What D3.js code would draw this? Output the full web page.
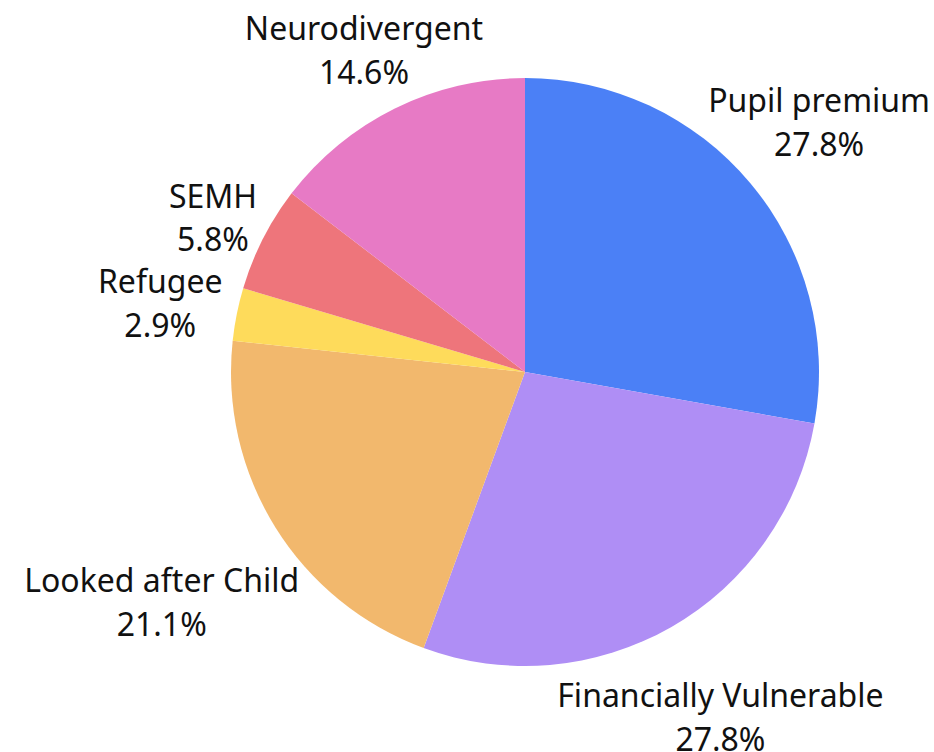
<!DOCTYPE html>
<html>
<head>
<meta charset="utf-8">
<script src="https://cdn.jsdelivr.net/npm/d3@7"></script>
<style>
  body { margin: 0; background: #fff; }
  text { font-family: "Noto Sans", sans-serif; fill: #111; }
</style>
</head>
<body>
<div id="chart"></div>
<script>
var width = 934, height = 752;

// slices, clockwise from 12 o'clock
var categories = ["Pupil premium", "Financially Vulnerable", "Looked after Child", "Refugee", "SEMH", "Neurodivergent"];
var values     = [27.8, 27.8, 21.1, 2.9, 5.8, 14.6];
var colors     = ["#4b80f6", "#af8ef5", "#f2b86d", "#fedb5b", "#ee757b", "#e77ac5"];

var data = categories.map(function(c, i) { return {name: c, value: values[i], color: colors[i]}; });

var cx = 525, cy = 372, radius = 294, labelGap = 311, pad = 4;

var svg = d3.select("#chart").append("svg")
    .attr("width", width)
    .attr("height", height);

var g = svg.append("g").attr("transform", "translate(" + cx + "," + cy + ")");

var pie = d3.pie().sort(null).value(function(d) { return d.value; });
var arc = d3.arc().innerRadius(0).outerRadius(radius);

var arcs = pie(data);

g.selectAll(".slice")
  .data(arcs)
  .enter()
  .append("path")
  .attr("class", "slice")
  .attr("d", arc)
  .attr("fill", function(d) { return d.data.color; });

// labels: two lines, pushed out along the mid angle so the text clears the pie
var labels = g.selectAll(".label")
  .data(arcs)
  .enter()
  .append("text")
  .attr("class", "label")
  .attr("text-anchor", "middle")
  .style("font-size", "32px");

labels.append("tspan")
  .attr("x", 0)
  .attr("dy", 0)
  .text(function(d) { return d.data.name; });

labels.append("tspan")
  .attr("x", 0)
  .attr("dy", "1.37em")
  .text(function(d) { return d.data.value.toFixed(1) + "%"; });

labels.each(function(d) {
  var box = this.getBBox();
  var a = (d.startAngle + d.endAngle) / 2;
  var s = Math.sin(a), c = Math.cos(a);
  var r = labelGap + box.width / 2 * Math.abs(s);
  var x = r * s, y = -r * c + 4;
  // keep the text inside the page horizontally
  var minX = -cx + pad + box.width / 2, maxX = width - cx - pad - box.width / 2;
  x = Math.max(minX, Math.min(maxX, x));
  var bx = box.x + box.width / 2, by = box.y + box.height / 2;
  d3.select(this).attr("transform", "translate(" + (x - bx) + "," + (y - by) + ")");
});
</script>
</body>
</html>
